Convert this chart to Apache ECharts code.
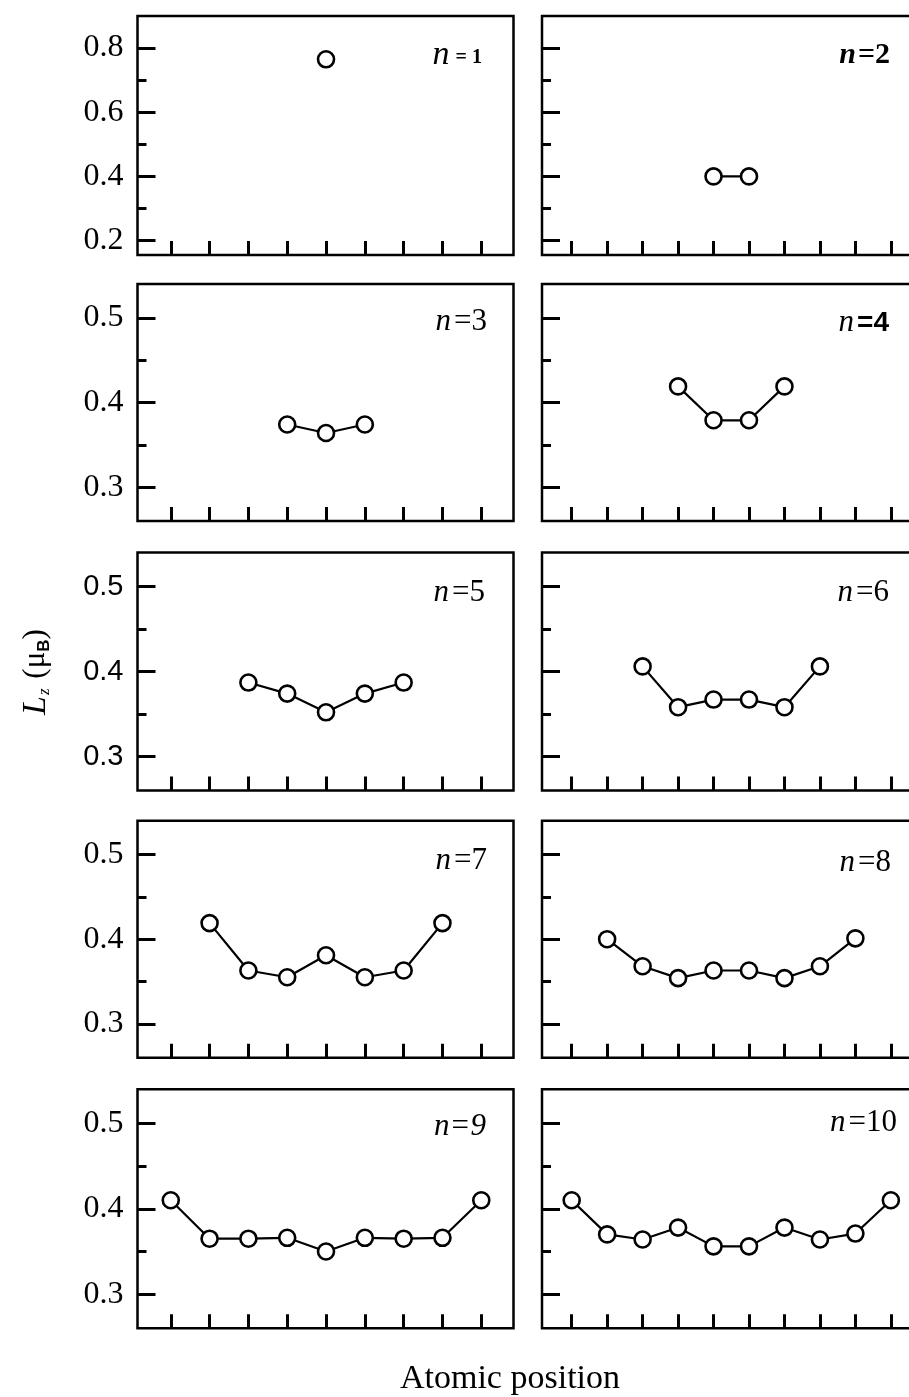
<!DOCTYPE html>
<html>
<head>
<meta charset="utf-8">
<script src="https://cdn.jsdelivr.net/npm/echarts@6/dist/echarts.min.js"></script>
<style>
  html, body { margin: 0; padding: 0; background: #fff; overflow: hidden; }
  /* a bit wider than the page so the right column is cut off at the edge */
  #chart { width: 930px; height: 1397px; }
</style>
</head>
<body>
<div id="chart"></div>
<script>
// atomic positions and Lz values (muB), one pair per cluster size
var xPos1 = [5];
var lz1 = [0.765];
var xPos2 = [5, 6];
var lz2 = [0.400, 0.400];
var xPos3 = [4, 5, 6];
var lz3 = [0.374, 0.364, 0.374];
var xPos4 = [4, 5, 6, 7];
var lz4 = [0.419, 0.379, 0.379, 0.419];
var xPos5 = [3, 4, 5, 6, 7];
var lz5 = [0.387, 0.374, 0.352, 0.374, 0.387];
var xPos6 = [3, 4, 5, 6, 7, 8];
var lz6 = [0.406, 0.358, 0.367, 0.367, 0.358, 0.406];
var xPos7 = [2, 3, 4, 5, 6, 7, 8];
var lz7 = [0.419, 0.363, 0.355, 0.381, 0.355, 0.363, 0.419];
var xPos8 = [2, 3, 4, 5, 6, 7, 8, 9];
var lz8 = [0.400, 0.368, 0.354, 0.363, 0.363, 0.354, 0.368, 0.401];
var xPos9 = [1, 2, 3, 4, 5, 6, 7, 8, 9];
var lz9 = [0.410, 0.365, 0.365, 0.366, 0.350, 0.366, 0.365, 0.366, 0.410];
var xPos10 = [1, 2, 3, 4, 5, 6, 7, 8, 9, 10];
var lz10 = [0.410, 0.370, 0.364, 0.378, 0.356, 0.356, 0.378, 0.364, 0.371, 0.410];

// tick lists
var xTicksLeft = [1, 2, 3, 4, 5, 6, 7, 8, 9];
var xTicksRight = [1, 2, 3, 4, 5, 6, 7, 8, 9, 10];
var yTicksTop = [0.2, 0.4, 0.6, 0.8];
var yMinorTop = [0.3, 0.5, 0.7];
var yTicks = [0.3, 0.4, 0.5];
var yMinor = [0.35, 0.45];

var SERIF = 'Liberation Serif';
var SANS = 'Liberation Sans';

var myChart = echarts.init(document.getElementById('chart'));

// layout of the 5x2 panel grid (right column runs past the page edge)
var colLeft = [137.5, 542];
var colWidth = [376, 379];
var colXRange = [[0.143, 9.83], [0.163, 10.85]];
var rowTop = [16, 284, 552.5, 820.7, 1089.3];
var rowHeight = [239, 237, 238, 237, 239];

var panels = [
  {x: xPos1, y: lz1, label: '{i1|n}{s1|= 1}', lx: 482, ly: 55},
  {x: xPos2, y: lz2, label: '{bi|n}{b|=2}', lx: 890, ly: 55},
  {x: xPos3, y: lz3, label: '{i|n}{r|=3}', lx: 487, ly: 322},
  {x: xPos4, y: lz4, label: '{i|n}{bs|=4}', lx: 889, ly: 323},
  {x: xPos5, y: lz5, label: '{i|n}{r|=5}', lx: 485, ly: 593},
  {x: xPos6, y: lz6, label: '{i|n}{r|=6}', lx: 889, ly: 593},
  {x: xPos7, y: lz7, label: '{i|n}{r|=7}', lx: 487, ly: 861},
  {x: xPos8, y: lz8, label: '{i|n}{r|=8}', lx: 891, ly: 863},
  {x: xPos9, y: lz9, label: '{it|n=9}', lx: 486, ly: 1127},
  {x: xPos10, y: lz10, label: '{i|n}{r|=10}', lx: 897, ly: 1123}
];

var labelRich = {
  i1: {fontFamily: SERIF, fontStyle: 'italic', fontSize: 34, padding: [0, 6, 0, 0]},
  s1: {fontFamily: SERIF, fontWeight: 'bold', fontSize: 20, padding: [6, 0, 0, 0]},
  bi: {fontFamily: SERIF, fontStyle: 'italic', fontWeight: 'bold', fontSize: 30, padding: [0, 2, 0, 0]},
  b: {fontFamily: SERIF, fontWeight: 'bold', fontSize: 30},
  i: {fontFamily: SERIF, fontStyle: 'italic', fontSize: 31, padding: [0, 3, 0, 0]},
  r: {fontFamily: SERIF, fontSize: 31},
  bs: {fontFamily: SANS, fontWeight: 'bold', fontSize: 28},
  it: {fontFamily: SERIF, fontStyle: 'italic', fontSize: 31}
};

var grids = [], xAxes = [], yAxes = [], series = [], graphics = [];

panels.forEach(function (p, k) {
  var row = Math.floor(k / 2), col = k % 2;
  var top = row === 0;
  grids.push({
    left: colLeft[col], top: rowTop[row],
    width: colWidth[col], height: rowHeight[row],
    outerBoundsMode: 'none',
    show: true, borderColor: '#000', borderWidth: 2.5,
    backgroundColor: 'transparent'
  });
  xAxes.push({
    type: 'value', gridIndex: k,
    min: colXRange[col][0], max: colXRange[col][1],
    axisLine: {show: false, onZero: false},
    splitLine: {show: false},
    axisLabel: {show: false},
    axisTick: {
      show: true, inside: true, length: 14,
      customValues: col === 0 ? xTicksLeft : xTicksRight,
      lineStyle: {color: '#000', width: 3}
    }
  });
  var yMin = top ? 0.155 : 0.26, yMax = top ? 0.9 : 0.54;
  var labelFont = (row === 2) ? SANS : SERIF;
  // major ticks and labels
  yAxes.push({
    type: 'value', gridIndex: k, position: 'left',
    min: yMin, max: yMax,
    axisLine: {show: false, onZero: false},
    splitLine: {show: false},
    axisTick: {
      show: true, inside: true, length: 18,
      customValues: top ? yTicksTop : yTicks,
      lineStyle: {color: '#000', width: 3}
    },
    axisLabel: {
      show: col === 0,
      customValues: top ? yTicksTop : yTicks,
      formatter: function (v) { return v.toFixed(1); },
      fontFamily: labelFont, fontSize: row === 2 ? 29 : 32,
      color: '#000', margin: 14, padding: [6, 0, 0, 0]
    }
  });
  // minor ticks
  yAxes.push({
    type: 'value', gridIndex: k, position: 'left',
    min: yMin, max: yMax,
    axisLine: {show: false, onZero: false},
    splitLine: {show: false},
    axisLabel: {show: false},
    axisTick: {
      show: true, inside: true, length: 9,
      customValues: top ? yMinorTop : yMinor,
      lineStyle: {color: '#000', width: 3}
    }
  });
  series.push({
    type: 'line',
    xAxisIndex: k, yAxisIndex: 2 * k,
    data: p.x.map(function (v, i) { return [v, p.y[i]]; }),
    symbol: 'circle', symbolSize: 16,
    itemStyle: {color: '#fff', borderColor: '#000', borderWidth: 2.6},
    lineStyle: {color: '#000', width: 2.2},
    animation: false
  });
  graphics.push({
    type: 'text', x: p.lx, y: p.ly,
    style: {
      text: p.label, rich: labelRich,
      align: 'right', verticalAlign: 'middle', fill: '#000'
    }
  });
});

// y axis title, rotated
graphics.push({
  type: 'text', x: 36, y: 672, rotation: Math.PI / 2,
  style: {
    text: '{L|L}{z|z}{p| (μ}{B|B}{p|)}',
    align: 'center', verticalAlign: 'middle', fill: '#000',
    rich: {
      L: {fontFamily: SERIF, fontStyle: 'italic', fontSize: 34},
      z: {fontFamily: SERIF, fontStyle: 'italic', fontSize: 17, verticalAlign: 'bottom', padding: [0, 2, 0, 1]},
      p: {fontFamily: SERIF, fontSize: 31},
      B: {fontFamily: SANS, fontWeight: 'bold', fontSize: 17, verticalAlign: 'bottom'}
    }
  }
});

// x axis title
graphics.push({
  type: 'text', x: 510, y: 1379,
  style: {
    text: 'Atomic position', fontFamily: SERIF, fontSize: 34,
    align: 'center', verticalAlign: 'middle', fill: '#000'
  }
});

var option = {
  backgroundColor: '#fff',
  animation: false,
  grid: grids,
  xAxis: xAxes,
  yAxis: yAxes,
  series: series,
  graphic: graphics
};

myChart.setOption(option);
</script>
</body>
</html>
